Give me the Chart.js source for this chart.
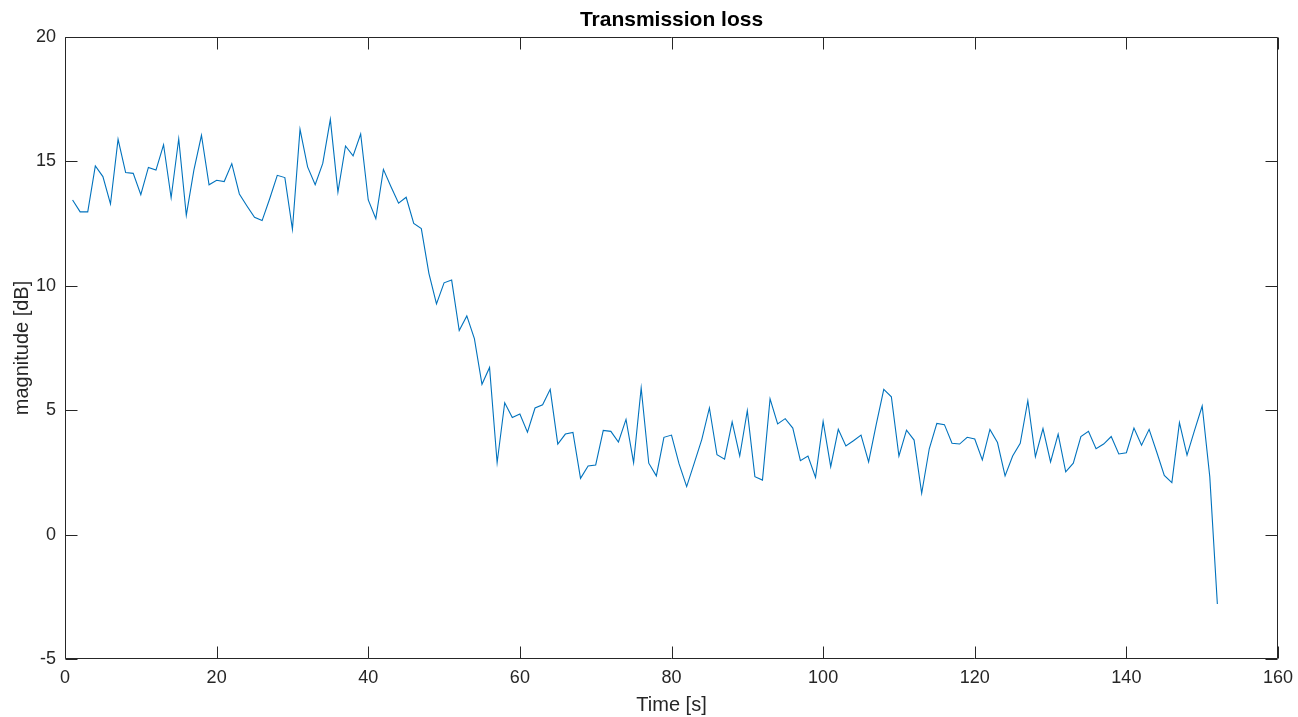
<!DOCTYPE html>
<html>
<head>
<meta charset="utf-8">
<title>Transmission loss</title>
<script src="https://cdn.jsdelivr.net/npm/chart.js@4"></script>
<style>
  html, body { margin: 0; padding: 0; background: #ffffff; }
  #wrap { width: 1298px; height: 717px; }
</style>
</head>
<body>
<div id="wrap"><canvas id="tl" width="1298" height="717"></canvas></div>
<script>
// Sample times [s]
const seconds = [
  1, 2, 3, 4, 5, 6, 7, 8, 9, 10, 11, 12, 13, 14, 15, 16, 17, 18, 19, 20,
  21, 22, 23, 24, 25, 26, 27, 28, 29, 30, 31, 32, 33, 34, 35, 36, 37, 38, 39, 40,
  41, 42, 43, 44, 45, 46, 47, 48, 49, 50, 51, 52, 53, 54, 55, 56, 57, 58, 59, 60,
  61, 62, 63, 64, 65, 66, 67, 68, 69, 70, 71, 72, 73, 74, 75, 76, 77, 78, 79, 80,
  81, 82, 83, 84, 85, 86, 87, 88, 89, 90, 91, 92, 93, 94, 95, 96, 97, 98, 99, 100,
  101, 102, 103, 104, 105, 106, 107, 108, 109, 110, 111, 112, 113, 114, 115, 116, 117, 118, 119, 120,
  121, 122, 123, 124, 125, 126, 127, 128, 129, 130, 131, 132, 133, 134, 135, 136, 137, 138, 139, 140,
  141, 142, 143, 144, 145, 146, 147, 148, 149, 150, 151, 152
];

// Transmission loss magnitude [dB]
const magnitude = [
  13.45, 12.97, 12.97, 14.82, 14.39, 13.29, 15.89, 14.55, 14.52, 13.66,
  14.76, 14.65, 15.67, 13.54, 15.91, 12.83, 14.65, 16.05, 14.06, 14.24,
  14.19, 14.91, 13.69, 13.21, 12.75, 12.62, 13.50, 14.44, 14.35, 12.27,
  16.29, 14.78, 14.06, 14.92, 16.69, 13.77, 15.62, 15.22, 16.10, 13.45,
  12.70, 14.68, 13.98, 13.32, 13.56, 12.51, 12.30, 10.50, 9.27, 10.12,
  10.23, 8.20, 8.79, 7.88, 6.04, 6.72, 2.89, 5.30, 4.71, 4.85,
  4.12, 5.09, 5.22, 5.84, 3.64, 4.04, 4.11, 2.26, 2.76, 2.80,
  4.19, 4.15, 3.72, 4.63, 2.89, 5.89, 2.87, 2.36, 3.91, 4.00,
  2.84, 1.93, 2.87, 3.83, 5.09, 3.21, 3.03, 4.53, 3.16, 4.98,
  2.33, 2.19, 5.46, 4.45, 4.66, 4.28, 2.97, 3.16, 2.30, 4.55,
  2.73, 4.23, 3.56, 3.77, 4.00, 2.92, 4.42, 5.84, 5.54, 3.16,
  4.20, 3.80, 1.66, 3.45, 4.47, 4.42, 3.67, 3.64, 3.91, 3.84,
  3.00, 4.23, 3.70, 2.36, 3.16, 3.67, 5.38, 3.13, 4.26, 2.92,
  4.04, 2.52, 2.87, 3.94, 4.15, 3.45, 3.64, 3.94, 3.24, 3.29,
  4.28, 3.59, 4.23, 3.32, 2.38, 2.09, 4.50, 3.19, 4.20, 5.17,
  2.33, -2.79
];

// Axis limits and tick spacing
const xLimits = [0, 160];
const xStep = 20;
const yLimits = [-5, 20];
const yStep = 5;

const FONT = "'Liberation Sans', Arial, Helvetica, sans-serif";
const AXIS_COLOR = '#262626';

// Axes box with inward tick marks on all four sides
const boxAxes = {
  id: 'boxAxes',
  afterDatasetsDraw(chart) {
    const { ctx, chartArea: a, scales } = chart;
    const len = 12;
    const L = Math.round(a.left) + 0.5, R = Math.round(a.right) - 0.5;
    const T = Math.round(a.top) + 0.5, B = Math.round(a.bottom) - 0.5;
    ctx.save();
    ctx.strokeStyle = AXIS_COLOR;
    ctx.lineWidth = 1;
    ctx.beginPath();
    ctx.rect(L, T, R - L, B - T);
    scales.x.ticks.forEach(t => {
      const px = Math.round(scales.x.getPixelForValue(t.value)) + 0.5;
      ctx.moveTo(px, B); ctx.lineTo(px, B - len);
      ctx.moveTo(px, T); ctx.lineTo(px, T + len);
    });
    scales.y.ticks.forEach(t => {
      const py = Math.round(scales.y.getPixelForValue(t.value)) + 0.5;
      ctx.moveTo(L, py); ctx.lineTo(L + len, py);
      ctx.moveTo(R, py); ctx.lineTo(R - len, py);
    });
    ctx.stroke();
    ctx.restore();
  }
};

new Chart(document.getElementById('tl'), {
  type: 'line',
  data: {
    datasets: [{
      data: seconds.map((t, i) => ({ x: t, y: magnitude[i] })),
      borderColor: '#0072BD',
      borderWidth: 1.1,
      pointRadius: 0,
      tension: 0,
      fill: false
    }]
  },
  options: {
    responsive: false,
    animation: false,
    devicePixelRatio: 1,
    layout: { padding: { top: 0, right: 20, bottom: 0, left: 0 } },
    plugins: {
      legend: { display: false },
      tooltip: { enabled: false },
      title: {
        display: true,
        fullSize: false,
        text: 'Transmission loss',
        color: '#000000',
        font: { family: FONT, size: 21, weight: 'bold', lineHeight: 1.2 },
        padding: { top: 8, bottom: 3.8 }
      }
    },
    scales: {
      x: {
        type: 'linear',
        min: xLimits[0],
        max: xLimits[1],
        grid: { display: false, drawTicks: false },
        border: { display: false },
        ticks: {
          stepSize: xStep,
          color: AXIS_COLOR,
          padding: 8,
          maxRotation: 0,
          font: { family: FONT, size: 18 }
        },
        title: {
          display: true,
          text: 'Time [s]',
          color: AXIS_COLOR,
          font: { family: FONT, size: 20 },
          padding: { top: 0, bottom: 0 }
        },
        afterFit(s) { s.height = 58; s.paddingLeft = 0; s.paddingRight = 0; }
      },
      y: {
        min: yLimits[0],
        max: yLimits[1],
        grid: { display: false, drawTicks: false },
        border: { display: false },
        ticks: {
          stepSize: yStep,
          color: AXIS_COLOR,
          padding: 9,
          font: { family: FONT, size: 18 }
        },
        title: {
          display: true,
          text: 'magnitude [dB]',
          color: AXIS_COLOR,
          font: { family: FONT, size: 20 },
          padding: { top: 10, bottom: 0 }
        },
        afterFit(s) { s.width = 65; s.paddingTop = 0; s.paddingBottom = 0; }
      }
    }
  },
  plugins: [boxAxes]
});
</script>
</body>
</html>
